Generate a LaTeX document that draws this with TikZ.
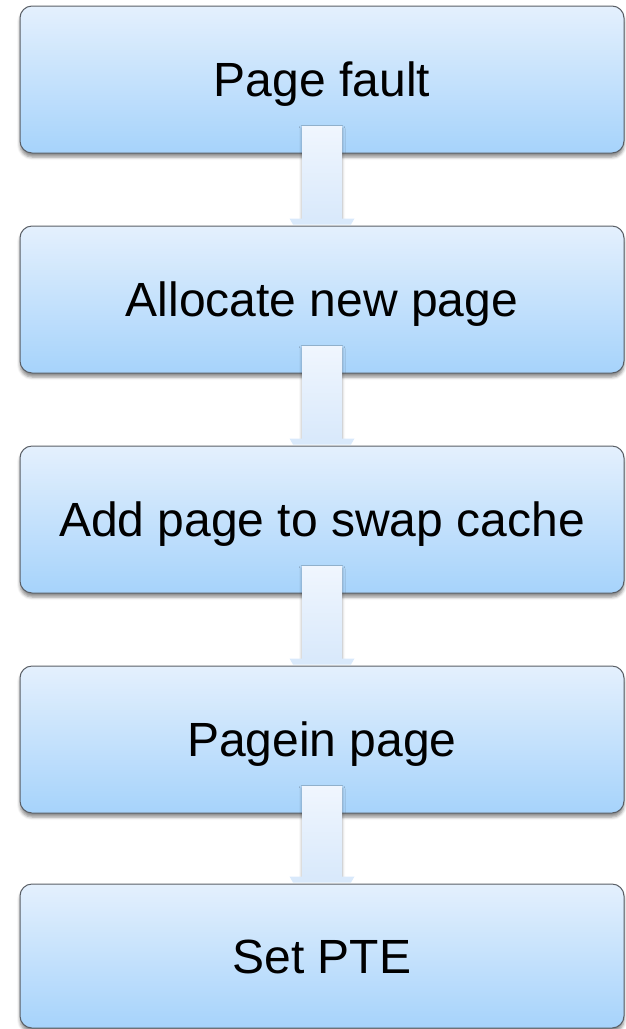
\documentclass[tikz,border=0pt]{standalone}
\usepackage{fontspec}
\setmainfont{Liberation Sans}
\usetikzlibrary{shadows.blur,calc}
\definecolor{boxtop}{HTML}{E4F0FD}
\definecolor{boxbot}{HTML}{A6D3FB}
\definecolor{boxline}{HTML}{5A5F66}
\definecolor{arrtop}{HTML}{F0F6FE}
\definecolor{arrbot}{HTML}{D9E9FB}
\tikzset{
  stepbox/.style={draw=boxline, line width=1pt, rounded corners=12pt,
    top color=boxtop, bottom color=boxbot,
    minimum width=604pt, minimum height=147pt, inner sep=0pt,
    text height=34.4pt, text depth=0pt,
    font=\fontsize{48}{56}\selectfont,
    blur shadow={shadow xshift=0pt, shadow yshift=-4pt,
      shadow blur radius=3pt, shadow opacity=45}},
  flowshaft/.style={top color=arrtop, bottom color=arrbot,
    blur shadow={shadow xshift=0pt, shadow yshift=-2pt,
      shadow blur radius=3pt, shadow opacity=35}},
  flowhead/.style={fill=arrbot},
}
\begin{document}
\begin{tikzpicture}[x=1pt,y=-1pt]
  \useasboundingbox (0,0) rectangle (625,1029);
  \node[stepbox] (b1) at (322,79.5) {Page fault};
  \node[stepbox] (b2) at (322,299.5) {Allocate new page};
  \node[stepbox] (b3) at (322,519.5) {Add page to swap cache};
  \node[stepbox] (b4) at (322,739.5) {Pagein page};
  \node[stepbox, minimum height=144pt] (b5) at (322,956) {Set PTE};
  % block arrows between consecutive steps
  \foreach \a/\b in {b1/b2,b2/b3,b3/b4,b4/b5} {
    \shade[flowshaft] ([xshift=-20pt,yshift=27pt]\a.south) rectangle ([xshift=20pt,yshift=7pt]\b.north);
    \fill[flowhead] ([xshift=-32.5pt,yshift=7pt]\b.north) -- ([xshift=32.5pt,yshift=7pt]\b.north)
      -- ([xshift=29pt,yshift=1pt]\b.north) -- ([xshift=-29pt,yshift=1pt]\b.north) -- cycle;
  }
\end{tikzpicture}
\end{document}
